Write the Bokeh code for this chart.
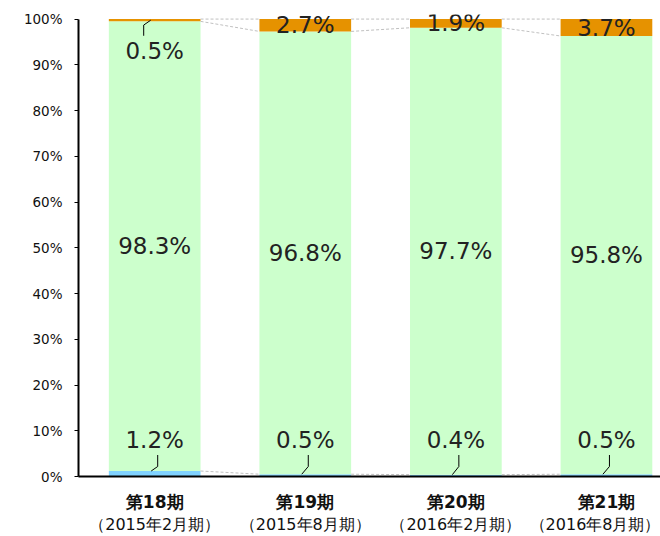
from bokeh.plotting import figure
from bokeh.models import ColumnDataSource, FixedTicker, LinearAxis, PrintfTickFormatter, Range1d
from bokeh.embed import file_html
from bokeh.resources import INLINE
from bokeh.core.properties import value

# ---- data ----
periods = ["第18期", "第19期", "第20期", "第21期"]
period_dates = ["（2015年2月期）", "（2015年8月期）", "（2016年2月期）", "（2016年8月期）"]
blue_vals = [1.2, 0.5, 0.4, 0.5]
green_vals = [98.3, 96.8, 97.7, 95.8]
orange_vals = [0.5, 2.7, 1.9, 3.7]
y_ticks = [0, 10, 20, 30, 40, 50, 60, 70, 80, 90, 100]

# ---- style ----
BLUE = "#80D2FF"
GREEN = "#CCFFCC"
ORANGE = "#E69200"
LABEL_FONT = "DejaVu Sans"

xs = list(range(1, len(periods) + 1))
X0, X1 = 0.494, 4.359
W = 0.609
FW, FH = 582, 462
Y1 = 101
pxx = FW / (X1 - X0)
pxy = FH / Y1

p = figure(width=660, height=536, x_range=Range1d(X0, X1), y_range=Range1d(0, Y1),
           output_backend="svg", toolbar_location=None,
           min_border_left=78, min_border_right=0, min_border_top=14, min_border_bottom=0)
p.outline_line_color = None
p.xgrid.visible = False
p.ygrid.visible = False
p.background_fill_color = "white"

src = ColumnDataSource(dict(x=xs, blue=blue_vals, green=green_vals, orange=orange_vals))
p.vbar_stack(["blue", "green", "orange"], x="x", width=W, source=src,
             fill_color=[BLUE, GREEN, ORANGE], line_color=None)

# cumulative levels
lvl_blue = blue_vals
lvl_green = [b + g for b, g in zip(blue_vals, green_vals)]
lvl_total = [b + g + o for b, g, o in zip(blue_vals, green_vals, orange_vals)]

# series lines
sx0, sy0, sx1, sy1 = [], [], [], []
for lvl in (lvl_blue, lvl_green, lvl_total):
    for i in range(len(xs) - 1):
        sx0.append(xs[i] + W / 2)
        sy0.append(lvl[i])
        sx1.append(xs[i + 1] - W / 2)
        sy1.append(lvl[i + 1])
p.segment(x0=sx0, y0=sy0, x1=sx1, y1=sy1, line_color="#C0C0C0", line_dash="3 2", line_width=1)

fmt = lambda v: f"{v:.1f}%"
lab_kw = dict(text_font=value(LABEL_FONT), text_font_size="23px", text_color="#222222",
              text_align="center", text_baseline="middle")

# green labels (inside)
p.text(x=xs, y=[b + g / 2 for b, g in zip(blue_vals, green_vals)],
       text=[fmt(v) for v in green_vals], **lab_kw)

# blue labels (outside, above axis) with leaders
p.text(x=xs, y=[0] * len(xs), y_offset=-37, text=[fmt(v) for v in blue_vals], **lab_kw)
lx, ly = [], []
for x, b in zip(xs, blue_vals):
    lx.append([x + 3 / pxx, x + 3 / pxx, x - 3.5 / pxx])
    ly.append([21.5 / pxy, 10 / pxy, b])
p.multi_line(xs=lx, ys=ly, line_color="black", line_width=1)

# orange labels: inside when large enough, else below bar top with leader
THR = 1.5
in_x = [x for x, o in zip(xs, orange_vals) if o >= THR]
in_y = [t - o / 2 for t, o in zip(lvl_total, orange_vals) if o >= THR]
in_t = [fmt(o) for o in orange_vals if o >= THR]
p.text(x=in_x, y=in_y, text=in_t, **lab_kw)
out_x = [x for x, o in zip(xs, orange_vals) if o < THR]
out_y = [t for t, o in zip(lvl_total, orange_vals) if o < THR]
out_t = [fmt(o) for o in orange_vals if o < THR]
p.text(x=out_x, y=out_y, y_offset=31.5, text=out_t, **lab_kw)
tlx, tly = [], []
for x, t, o in zip(xs, lvl_total, orange_vals):
    if o < THR:
        tlx.append([x - 11 / pxx, x - 11 / pxx, x - 4 / pxx])
        tly.append([t - 16.7 / pxy, t - 6 / pxy, t - o / 2])
p.multi_line(xs=tlx, ys=tly, line_color="black", line_width=1)

# y axis
ya = p.yaxis[0]
ya.ticker = FixedTicker(ticks=y_ticks)
ya.formatter = PrintfTickFormatter(format="%d%%")
ya.bounds = (0, 100)
ya.axis_line_width = 2
ya.axis_line_color = "black"
ya.major_tick_in = 0
ya.major_tick_out = 4
ya.major_tick_line_color = "black"
ya.minor_tick_line_color = None
ya.major_label_standoff = 12
ya.major_label_text_font = LABEL_FONT
ya.major_label_text_font_size = "13.5px"
ya.major_label_text_color = "#111111"

# x axis: period names
xa = p.xaxis[0]
xa.ticker = FixedTicker(ticks=xs)
xa.major_label_overrides = {x: n for x, n in zip(xs, periods)}
xa.axis_line_width = 2
xa.axis_line_color = "black"
xa.major_tick_line_color = None
xa.major_tick_in = 0
xa.major_tick_out = 0
xa.minor_tick_line_color = None
xa.major_label_standoff = 15
xa.major_label_text_font = LABEL_FONT
xa.major_label_text_font_style = "bold"
xa.major_label_text_font_size = "17px"
xa.major_label_text_line_height = 1.0
xa.major_label_text_color = "#111111"

# second x axis row: fiscal period dates
xa2 = LinearAxis(ticker=FixedTicker(ticks=xs),
                 major_label_overrides={x: d for x, d in zip(xs, period_dates)})
xa2.axis_line_color = None
xa2.major_tick_line_color = None
xa2.minor_tick_line_color = None
xa2.major_tick_in = 0
xa2.major_tick_out = 0
xa2.major_label_standoff = 0
xa2.major_label_text_font = LABEL_FONT
xa2.major_label_text_font_size = "16px"
xa2.major_label_text_line_height = 1.0
xa2.major_label_text_color = "#111111"
p.add_layout(xa2, "below")

open("out.html", "w").write(file_html(p, INLINE))
